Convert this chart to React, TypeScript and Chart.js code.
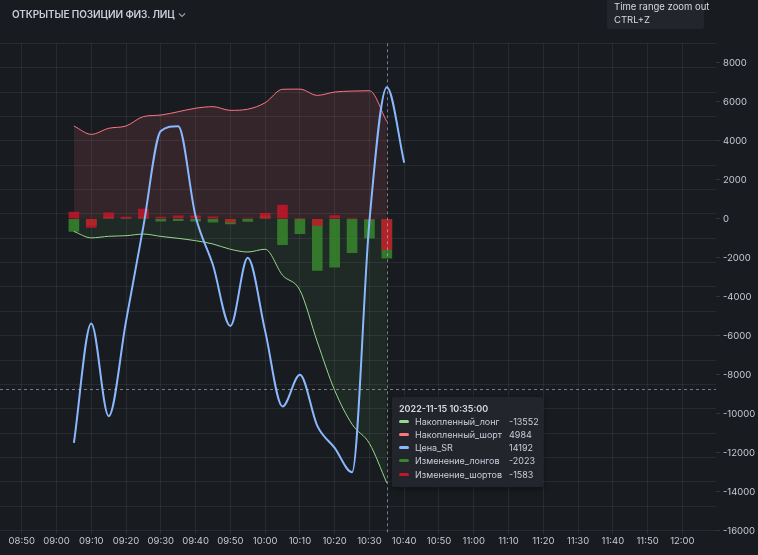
import React, { useEffect, useRef } from "react";
import { Chart, registerables } from "chart.js";

Chart.register(...registerables);

// ---------- data ----------
const times = [
  "09:05", "09:10", "09:15", "09:20", "09:25", "09:30", "09:35", "09:40", "09:45", "09:50",
  "09:55", "10:00", "10:05", "10:10", "10:15", "10:20", "10:25", "10:30", "10:35",
];
const priceTimes = [
  "09:05", "09:10", "09:15", "09:20", "09:25", "09:30", "09:35", "09:40", "09:45", "09:50",
  "09:55", "10:00", "10:05", "10:10", "10:15", "10:20", "10:25", "10:30", "10:35", "10:40",
];
const cumLong = [
  -650, -980, -900, -870, -785, -905, -1005, -1125, -1295, -1565,
  -1705, -1565, -2895, -3665, -6315, -8799, -10539, -11529, -13552,
];
const cumShort = [
  4760, 4330, 4640, 4760, 5240, 5320, 5490, 5670, 5750, 5560,
  5620, 5950, 6640, 6650, 6330, 6500, 6550, 6567, 4984,
];
const price = [
  14046, 14095, 14057, 14096, 14135, 14174, 14176, 14139, 14119, 14094,
  14122, 14092, 14061, 14074, 14053, 14044, 14034, 14137, 14192, 14161,
];
const longChange = [
  -650, -330, 80, 30, 85, -120, -100, -120, -170, -270,
  -140, 140, -1330, -770, -2650, -2484, -1740, -990, -2023,
];
const shortChange = [
  340, -440, 310, 90, 500, 90, 150, 150, 100, -170,
  40, 280, 700, 20, -340, 160, 40, -40, -1583,
];
const yTicks = [8000, 6000, 4000, 2000, 0, -2000, -4000, -6000, -8000, -10000, -12000, -14000, -16000];
const seriesNames = ["Накопленный_лонг", "Накопленный_шорт", "Цена_SR", "Изменение_лонгов", "Изменение_шортов"];
const hoverTime = "10:35";
const hoverDate = "2022-11-15";
const pointerValue = -8730;

// ---------- helpers ----------
const toMin = (t: string) => {
  const [h, m] = t.split(":").map(Number);
  return h * 60 + m;
};
const fmtMin = (v: number) => {
  const h = Math.floor(v / 60);
  const m = Math.round(v - h * 60);
  return String(h).padStart(2, "0") + ":" + String(m).padStart(2, "0");
};
const xy = (ts: string[], vs: number[]) => ts.map((t, i) => ({ x: toMin(t), y: vs[i] }));

const C_LONG = "#96D98D";
const C_SHORT = "#FF7383";
const C_PRICE = "#8AB8FF";
const C_LCH = "#37872D";
const C_SCH = "#C4162A";
const TEXT = "#c8c9d3";
const GRID = "rgba(204,204,220,0.085)";
const FONT = "Inter, 'Noto Sans', sans-serif";

const crosshair = {
  id: "crosshair",
  afterDatasetsDraw(chart: any) {
    const { ctx, chartArea, scales } = chart;
    const x = scales.x.getPixelForValue(toMin(hoverTime));
    const y = scales.y.getPixelForValue(pointerValue);
    ctx.save();
    ctx.strokeStyle = "rgba(204,204,220,0.55)";
    ctx.lineWidth = 1;
    ctx.setLineDash([3, 3]);
    ctx.beginPath();
    ctx.moveTo(Math.round(x) + 0.5, chartArea.top);
    ctx.lineTo(Math.round(x) + 0.5, chartArea.bottom + 4);
    ctx.moveTo(chartArea.left, Math.round(y) + 0.5);
    ctx.lineTo(chartArea.right, Math.round(y) + 0.5);
    ctx.stroke();
    ctx.restore();
  },
};

export default function App() {
  const ref = useRef<HTMLCanvasElement>(null);

  useEffect(() => {
    document.body.style.margin = "0";
    Chart.defaults.font.family = FONT;
    const chart = new Chart(ref.current as HTMLCanvasElement, {
      type: "line",
      data: {
        datasets: [
          {
            type: "line",
            label: seriesNames[2],
            data: xy(priceTimes, price),
            borderColor: C_PRICE,
            borderWidth: 2,
            pointRadius: 0,
            fill: false,
            cubicInterpolationMode: "monotone",
            yAxisID: "yPrice",
            order: 0,
          },
          {
            type: "line",
            label: seriesNames[0],
            data: xy(times, cumLong),
            borderColor: C_LONG,
            borderWidth: 1,
            pointRadius: 0,
            fill: "origin",
            backgroundColor: "rgba(115,191,105,0.09)",
            cubicInterpolationMode: "monotone",
            yAxisID: "y",
            order: 1,
          },
          {
            type: "line",
            label: seriesNames[1],
            data: xy(times, cumShort),
            borderColor: C_SHORT,
            borderWidth: 1,
            pointRadius: 0,
            fill: "origin",
            backgroundColor: "rgba(255,115,131,0.12)",
            cubicInterpolationMode: "monotone",
            yAxisID: "y",
            order: 2,
          },
          {
            type: "bar",
            label: seriesNames[4],
            data: xy(times, shortChange),
            backgroundColor: "rgba(196,22,42,0.85)",
            barThickness: 10,
            grouped: false,
            yAxisID: "y",
            order: 3,
          } as any,
          {
            type: "bar",
            label: seriesNames[3],
            data: xy(times, longChange),
            backgroundColor: "rgba(55,135,45,0.85)",
            barThickness: 10,
            grouped: false,
            yAxisID: "y",
            order: 4,
          } as any,
        ],
      },
      options: {
        animation: false,
        responsive: false,
        events: [],
        layout: { padding: { top: 43.3, left: 0, right: 0, bottom: 0 } },
        plugins: {
          legend: { display: false },
          tooltip: { enabled: false },
          filler: { drawTime: "beforeDatasetsDraw" },
        } as any,
        scales: {
          x: {
            type: "linear",
            min: 523.75,
            max: 729.67,
            offset: false,
            grid: { color: GRID, tickLength: 4, drawTicks: true, offset: false },
            border: { display: false },
            ticks: {
              stepSize: 10,
              includeBounds: false,
              autoSkip: false,
              maxRotation: 0,
              color: TEXT,
              padding: 1,
              font: { size: 9.5, family: FONT },
              callback: (v: any) => fmtMin(Number(v)),
            },
            afterFit: (s: any) => {
              s.height = 24.3;
            },
          },
          yPrice: {
            type: "linear",
            position: "left",
            min: 14010,
            max: 14210,
            grid: { color: GRID, drawTicks: false },
            border: { display: false },
            ticks: { display: false, stepSize: 10, includeBounds: false },
            afterFit: (s: any) => {
              s.width = 0;
            },
          },
          y: {
            type: "linear",
            position: "right",
            min: yTicks[yTicks.length - 1],
            max: 9000,
            grid: { drawOnChartArea: false, drawTicks: true, tickLength: 4, color: "rgba(204,204,220,0.15)" },
            border: { display: false },
            afterBuildTicks: (s: any) => {
              s.ticks = yTicks.map((v) => ({ value: v }));
            },
            ticks: {
              color: TEXT,
              padding: 3,
              font: { size: 9.5, family: FONT },
              callback: (v: any) => String(v),
            },
            afterFit: (s: any) => {
              s.width = 42;
            },
          },
        },
      },
      plugins: [crosshair],
    } as any);
    return () => chart.destroy();
  }, []);

  const hi = times.indexOf(hoverTime);
  const pi = priceTimes.indexOf(hoverTime);
  const rows = [
    { name: seriesNames[0], color: C_LONG, value: cumLong[hi] },
    { name: seriesNames[1], color: C_SHORT, value: cumShort[hi] },
    { name: seriesNames[2], color: C_PRICE, value: price[pi] },
    { name: seriesNames[3], color: C_LCH, value: longChange[hi] },
    { name: seriesNames[4], color: C_SCH, value: shortChange[hi] },
  ];

  return (
    <div
      style={{
        position: "fixed",
        left: 0,
        top: 0,
        width: 758,
        height: 555,
        background: "#181b1f",
        fontFamily: FONT,
        overflow: "hidden",
      }}
    >
      <canvas ref={ref} width={758} height={555} style={{ position: "absolute", left: 0, top: 0, width: 758, height: 555 }} />
      <div
        style={{
          position: "absolute",
          left: 12,
          top: 7,
          fontSize: 10,
          fontWeight: 600,
          color: "#ccccdc",
          lineHeight: "14px",
          whiteSpace: "nowrap",
          display: "flex",
          alignItems: "center",
          letterSpacing: "-0.1px",
        }}
      >
        <span>ОТКРЫТЫЕ ПОЗИЦИИ ФИЗ. ЛИЦ</span>
        <svg width="8" height="6" viewBox="0 0 8 6" style={{ marginLeft: 3, marginTop: 2 }}>
          <polyline points="1,1.5 4,4.5 7,1.5" fill="none" stroke="#9a9ba6" strokeWidth="1.1" />
        </svg>
      </div>
      <div
        style={{
          position: "absolute",
          left: 607,
          top: 0,
          width: 97,
          height: 29,
          background: "#22252b",
          borderRadius: "0 0 2px 2px",
          color: "#d8d9da",
          fontSize: 9.5,
          lineHeight: "13px",
          padding: "0 0 0 7px",
          boxSizing: "border-box",
          whiteSpace: "nowrap",
        }}
      >
        <div>Time range zoom out</div>
        <div>CTRL+Z</div>
      </div>
      <div
        style={{
          position: "absolute",
          left: 392,
          top: 397,
          width: 151,
          height: 90,
          background: "#22252b",
          borderRadius: 2,
          boxShadow: "0 2px 6px rgba(0,0,0,0.35)",
          fontSize: 9,
          color: "#ccccdc",
          whiteSpace: "nowrap",
        }}
      >
        <div style={{ position: "absolute", left: 7, top: 4.5, lineHeight: "13px", fontWeight: 600, color: "#d8d9da" }}>
          {hoverDate} {hoverTime}:00
        </div>
        {rows.map((r, i) => (
          <div key={r.name} style={{ position: "absolute", left: 0, top: 17.7 + i * 13.2, height: 13.2, width: 151 }}>
            <span
              style={{
                position: "absolute",
                left: 7,
                top: 5,
                width: 10,
                height: 3,
                borderRadius: 1.5,
                background: r.color,
              }}
            />
            <span style={{ position: "absolute", left: 23, top: 0, lineHeight: "13.2px" }}>{r.name}</span>
            <span style={{ position: "absolute", left: 117, top: 0, lineHeight: "13.2px" }}>{r.value}</span>
          </div>
        ))}
      </div>
    </div>
  );
}
